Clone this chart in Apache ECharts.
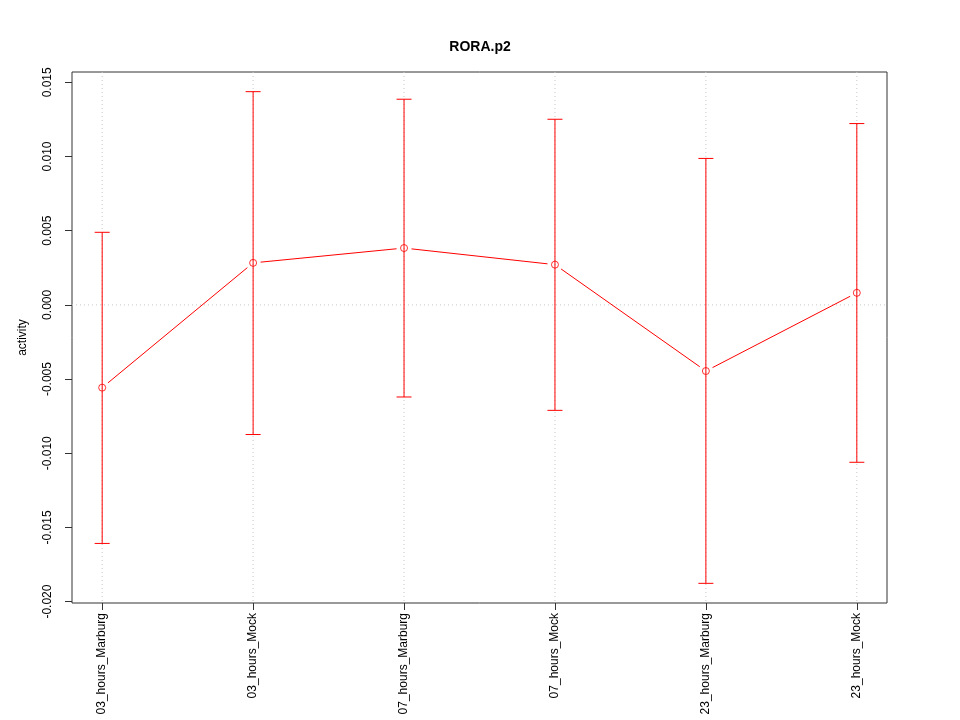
<!DOCTYPE html>
<html>
<head>
<meta charset="utf-8">
<script src="https://cdn.jsdelivr.net/npm/echarts@6/dist/echarts.min.js"></script>
<style>html,body{margin:0;padding:0;background:#fff}#c{width:960px;height:720px}</style>
</head>
<body>
<div id="c"></div>
<script>
var categories = ['03_hours_Marburg','03_hours_Mock','07_hours_Marburg','07_hours_Mock','23_hours_Marburg','23_hours_Mock'];
var means = [-0.00558, 0.00283, 0.00383, 0.00271, -0.00446, 0.00081];
var upper = [0.00489, 0.01437, 0.01386, 0.01251, 0.00987, 0.01222];
var lower = [-0.01608, -0.00874, -0.00621, -0.00711, -0.01877, -0.01061];
var yTicks = [-0.020, -0.015, -0.010, -0.005, 0.000, 0.005, 0.010, 0.015];
var refLines = [0];
var titleText = 'RORA.p2';
var yName = 'activity';

var xIdx = categories.map(function(c,i){return i+1;});
var yMin = Math.min.apply(null, lower), yMax = Math.max.apply(null, upper);
var yPad = (yMax - yMin) * 0.04;
var xPad = (xIdx.length - 1) * 0.04;

var errData = xIdx.map(function(x,i){return [x, lower[i], upper[i]];});
var ptData = xIdx.map(function(x,i){return [x, means[i]];});
var segData = means.slice(1).map(function(m,i){return [xIdx[i], means[i], xIdx[i+1], m];});
var gridStyle = {stroke: '#c8c8c8', lineWidth: 1, lineDash: [1, 3]};

var chart = echarts.init(document.getElementById('c'), null, {renderer:'canvas'});
chart.setOption({
  animation: false,
  backgroundColor: '#fff',
  title: {text: titleText, left: 'center', top: 35,
    textStyle: {fontFamily: 'Liberation Sans', fontSize: 14, fontWeight: 'bold', color: '#000'}},
  grid: {left: 72, right: 73, top: 72, bottom: 117, show: true, borderColor: '#333', borderWidth: 1, backgroundColor: 'transparent'},
  xAxis: {
    type: 'value', min: xIdx[0] - xPad, max: xIdx[xIdx.length-1] + xPad, position: 'bottom',
    axisLine: {show: false, onZero: false},
    splitLine: {show: false},
    axisTick: {show: true, customValues: xIdx, length: 7, lineStyle: {color: '#333'}},
    axisLabel: {show: true, customValues: xIdx, rotate: 90, margin: 10,
      fontFamily: 'Liberation Sans', fontSize: 12, color: '#000',
      formatter: function(v){ return categories[Math.round(v)-1] || ''; }}
  },
  yAxis: {
    type: 'value', min: yMin - yPad, max: yMax + yPad, position: 'left',
    name: yName, nameLocation: 'middle', nameRotate: 90, nameGap: 43,
    nameTextStyle: {fontFamily: 'Liberation Sans', fontSize: 12, color: '#000'},
    axisLine: {show: false, onZero: false},
    splitLine: {show: false},
    axisTick: {show: true, customValues: yTicks, length: 7, lineStyle: {color: '#333'}},
    axisLabel: {show: true, customValues: yTicks, rotate: 90, margin: 18,
      fontFamily: 'Liberation Sans', fontSize: 12, color: '#000',
      formatter: function(v){ return v.toFixed(3); }}
  },
  series: [
    {
      type: 'custom', data: xIdx.map(function(x){return [x];}), encode: {x: 0}, z: 1, silent: true,
      renderItem: function(params, api){
        var cs = params.coordSys;
        var p = api.coord([api.value(0), 0]);
        return {type: 'line', shape: {x1: p[0], y1: cs.y, x2: p[0], y2: cs.y + cs.height}, style: gridStyle};
      }
    },
    {
      type: 'custom', data: refLines.map(function(v){return [v];}), encode: {y: 0}, z: 1, silent: true,
      renderItem: function(params, api){
        var cs = params.coordSys;
        var p = api.coord([xIdx[0], api.value(0)]);
        return {type: 'line', shape: {x1: cs.x, y1: p[1], x2: cs.x + cs.width, y2: p[1]}, style: gridStyle};
      }
    },
    {
      type: 'custom', data: errData, encode: {x: 0, y: [1,2]}, z: 3,
      renderItem: function(params, api){
        var x = api.value(0);
        var lo = api.coord([x, api.value(1)]);
        var hi = api.coord([x, api.value(2)]);
        var w = 7.5;
        var st = {stroke: '#ff0000', lineWidth: 1};
        return {type: 'group', children: [
          {type: 'line', shape: {x1: lo[0], y1: lo[1], x2: hi[0], y2: hi[1]}, style: st},
          {type: 'line', shape: {x1: lo[0]-w, y1: lo[1], x2: lo[0]+w, y2: lo[1]}, style: st},
          {type: 'line', shape: {x1: hi[0]-w, y1: hi[1], x2: hi[0]+w, y2: hi[1]}, style: st}
        ]};
      }
    },
    {
      type: 'custom', data: segData, encode: {x: [0,2], y: [1,3]}, z: 4,
      renderItem: function(params, api){
        var p0 = api.coord([api.value(0), api.value(1)]);
        var p1 = api.coord([api.value(2), api.value(3)]);
        var dx = p1[0]-p0[0], dy = p1[1]-p0[1];
        var L = Math.sqrt(dx*dx+dy*dy), g = 7.5;
        var ux = dx/L, uy = dy/L;
        return {type: 'line', shape: {x1: p0[0]+ux*g, y1: p0[1]+uy*g, x2: p1[0]-ux*g, y2: p1[1]-uy*g},
          style: {stroke: '#ff0000', lineWidth: 1}};
      }
    },
    {
      type: 'scatter', data: ptData, symbol: 'circle', symbolSize: 7, z: 5,
      itemStyle: {color: 'rgba(255,255,255,0)', borderColor: '#ff0000', borderWidth: 1}
    }
  ]
});
</script>
</body>
</html>
